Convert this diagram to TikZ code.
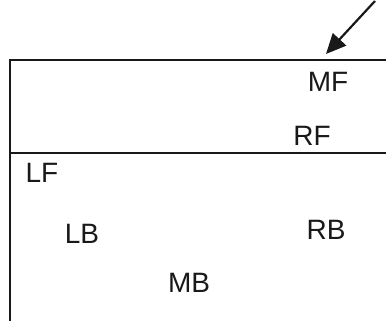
\documentclass[tikz,border=0pt]{standalone}
\usepackage{fontspec}
\setmainfont{Liberation Sans}
\usetikzlibrary{arrows.meta}
\begin{document}
\begin{tikzpicture}[x=1pt,y=-1pt,
  wall/.style={line width=2.6pt, line cap=rect, color=black!90},
  lbl/.style={font=\fontsize{28}{32}\selectfont, text=black!90, inner sep=0pt, anchor=center}]
\useasboundingbox (0,0) rectangle (386,321);
\coordinate (tl) at (10,60);
\coordinate (tr) at (386,60);
\coordinate (ml) at (10,153);
\coordinate (mr) at (386,153);
\coordinate (bl) at (10,321);
\draw[wall] (tr) -- (tl) -- (bl);
\draw[wall] (ml) -- (mr);
\coordinate (as) at (375,1);
\coordinate (ae) at (326,54);
\draw[line width=2.2pt, black!90, -{Triangle[length=20pt,width=18pt]}] (as) -- (ae);
\node[lbl] (MF) at (328,82) {MF};
\node[lbl] (RF) at (312,136) {RF};
\node[lbl] (LF) at (42,173) {LF};
\node[lbl] (LB) at (82,234) {LB};
\node[lbl] (RB) at (326,230) {RB};
\node[lbl] (MB) at (189,283) {MB};
\end{tikzpicture}
\end{document}
